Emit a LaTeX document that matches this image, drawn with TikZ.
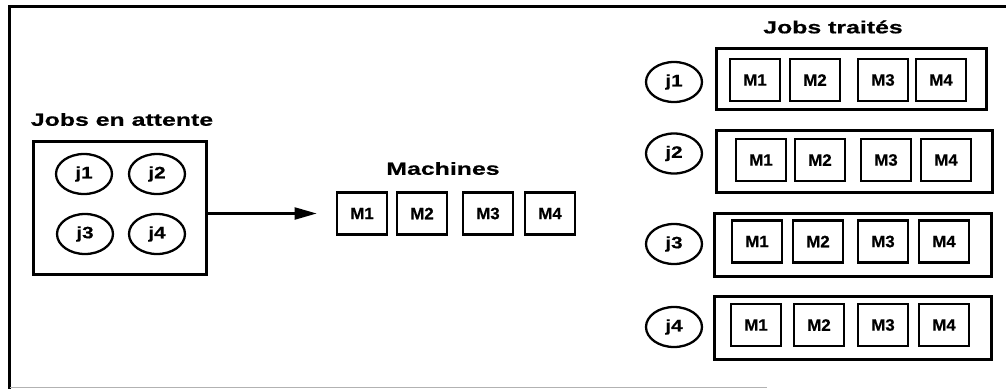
\documentclass[tikz,border=0pt]{standalone}
\usepackage{fontspec}
\setmainfont{Liberation Sans}
\newfontfamily\headfont{Liberation Sans}[FakeStretch=1.42,FakeBold=0.6]
\newfontfamily\machfont{Liberation Sans}[FakeStretch=1.02,FakeBold=0.5]
\newfontfamily\jobfont{Liberation Sans}[FakeStretch=1.25,FakeBold=0.5]
\usetikzlibrary{arrows.meta,shapes.geometric}

\begin{document}
\begin{tikzpicture}[x=1pt,y=-1pt,
  head/.style={font=\headfont\bfseries\fontsize{17.5}{17.5}\selectfont, inner sep=0pt},
  mach/.style={draw, line width=2.7pt, minimum width=50pt, minimum height=42pt,
               inner sep=0pt, font=\machfont\bfseries\fontsize{16.5}{16.5}\selectfont},
  job/.style={draw, ellipse, line width=2.3pt, minimum width=56pt, minimum height=40pt,
              inner sep=0pt, font=\jobfont\bfseries\fontsize{16.5}{16.5}\selectfont},
  group/.style={draw, line width=3pt, inner sep=0pt}
]
\useasboundingbox (0,0) rectangle (1006,389);

% page frame
\draw[line width=3pt] (1006,6.5) -- (9.5,6.5) -- (9.5,389);
\draw[black!30, line width=1pt] (10,387.5) -- (767,387.5);

% waiting jobs
\node[head] (twait) at (122,119.5) {Jobs en attente};
\node[group, minimum width=173pt, minimum height=133pt] (wait) at (120,208) {};
\node[job] (w1) at (84,174) {j1};
\node[job] (w2) at (157,174) {j2};
\node[job] (w3) at (85,234) {j3};
\node[job] (w4) at (157,234) {j4};

% machines
\node[head] (tmach) at (443,168.5) {Machines};
\node[mach] (m1) at (362,213.5) {M1};
\node[mach] (m2) at (422,213.5) {M2};
\node[mach] (m3) at (488,213.5) {M3};
\node[mach] (m4) at (550,213.5) {M4};

\draw[line width=2.2pt, -{Triangle[length=22pt,width=12pt]}]
  (wait.east |- m1.west) -- ([xshift=-19pt]m1.west);

% processed jobs
\node[head] (tdone) at (833,27) {Jobs traités};

\node[job] (j1) at (674,82) {j1};
\node[group, minimum width=270pt, minimum height=61pt] (r1) at (851,78.5) {};
\node[mach] (r1m1) at (755,80) {M1};
\node[mach] (r1m2) at (815,80) {M2};
\node[mach] (r1m3) at (883,80) {M3};
\node[mach] (r1m4) at (941,80) {M4};

\node[job] (j2) at (674,153.5) {j2};
\node[group, minimum width=276pt, minimum height=62pt] (r2) at (854,161) {};
\node[mach] (r2m1) at (761,160) {M1};
\node[mach] (r2m2) at (820,160) {M2};
\node[mach] (r2m3) at (886,160) {M3};
\node[mach] (r2m4) at (946,160) {M4};

\node[job] (j3) at (674,244) {j3};
\node[group, minimum width=277pt, minimum height=63pt] (r3) at (852.5,244.5) {};
\node[mach] (r3m1) at (757,241.5) {M1};
\node[mach] (r3m2) at (818,241.5) {M2};
\node[mach] (r3m3) at (883,241.5) {M3};
\node[mach] (r3m4) at (944,241.5) {M4};

\node[job] (j4) at (674,327) {j4};
\node[group, minimum width=277pt, minimum height=63pt] (r4) at (852.5,327.5) {};
\node[mach] (r4m1) at (756,325) {M1};
\node[mach] (r4m2) at (819,325) {M2};
\node[mach] (r4m3) at (883,325) {M3};
\node[mach] (r4m4) at (944,325) {M4};
\end{tikzpicture}
\end{document}
